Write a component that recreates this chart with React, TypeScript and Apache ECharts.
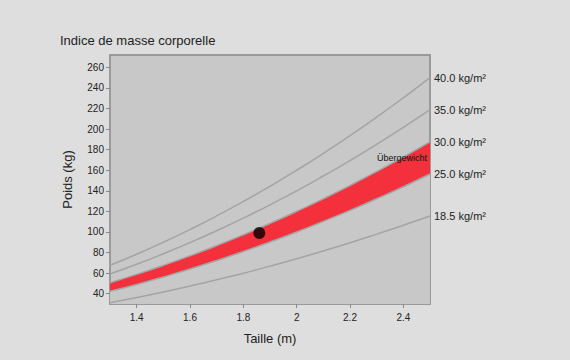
import React, { useEffect, useRef } from "react";
import * as echarts from "echarts";

const heights = [1.3, 1.4, 1.5, 1.6, 1.7, 1.8, 1.9, 2.0, 2.1, 2.2, 2.3, 2.4, 2.5];
const bmi185 = [31.3, 36.3, 41.6, 47.4, 53.5, 59.9, 66.8, 74.0, 81.6, 89.5, 97.9, 106.6, 115.6];
const bmi25 = [42.3, 49.0, 56.3, 64.0, 72.3, 81.0, 90.3, 100.0, 110.3, 121.0, 132.3, 144.0, 156.3];
const bmi30 = [50.7, 58.8, 67.5, 76.8, 86.7, 97.2, 108.3, 120.0, 132.3, 145.2, 158.7, 172.8, 187.5];
const bmi35 = [59.2, 68.6, 78.8, 89.6, 101.2, 113.4, 126.4, 140.0, 154.4, 169.4, 185.2, 201.6, 218.8];
const bmi40 = [67.6, 78.4, 90.0, 102.4, 115.6, 129.6, 144.4, 160.0, 176.4, 193.6, 211.6, 230.4, 250.0];
const lineLabels = ["18.5 kg/m²", "25.0 kg/m²", "30.0 kg/m²", "35.0 kg/m²", "40.0 kg/m²"];
const person = [1.86, 99];
const xTicks = [1.4, 1.6, 1.8, 2.0, 2.2, 2.4];
const yTicks = [40, 60, 80, 100, 120, 140, 160, 180, 200, 220, 240, 260];
const bandLabel = "Übergewicht";

const FONT = "'Liberation Sans', Arial, sans-serif";
const LINE = "#a4a4a4";
const PLOT_BG = "#c8c8c8";

export default function App() {
  const ref = useRef<HTMLDivElement>(null);
  useEffect(() => {
    document.body.style.margin = "0";
    const chart = echarts.init(ref.current!, null, { renderer: "svg" });
    const pair = (arr: number[]) => heights.map((h, i) => [h, arr[i]]);
    const endLabel = (text: string) => ({
      show: true,
      formatter: text,
      distance: 4,
      color: "#222",
      fontSize: 11,
      fontFamily: FONT,
    });
    const lineSeries = (arr: number[], text: string, extra: any = {}) => ({
      type: "line",
      data: pair(arr),
      smooth: true,
      symbol: "none",
      lineStyle: { color: LINE, width: 1.5 },
      endLabel: endLabel(text),
      silent: true,
      ...extra,
    });
    chart.setOption({
      animation: false,
      backgroundColor: "#dedede",
      title: {
        text: "Indice de masse corporelle",
        left: 60,
        top: 34,
        padding: 0,
        textStyle: { fontSize: 13, fontWeight: "normal", color: "#222", fontFamily: FONT },
      },
      grid: {
        left: 110,
        right: 140,
        top: 55,
        bottom: 56,
        show: true,
        backgroundColor: PLOT_BG,
        borderColor: "#9a9a9a",
        borderWidth: 2,
      },
      xAxis: {
        type: "value",
        min: 1.3,
        max: 2.5,
        name: "Taille (m)",
        nameLocation: "middle",
        nameGap: 28,
        nameTextStyle: { fontSize: 13, color: "#222", fontFamily: FONT },
        axisLine: { show: false },
        splitLine: { show: false },
        axisTick: { show: true, length: 4, lineStyle: { color: "#888" }, customValues: xTicks },
        axisLabel: {
          color: "#222",
          fontSize: 10,
          fontFamily: FONT,
          margin: 8,
          customValues: xTicks,
        },
      },
      yAxis: {
        type: "value",
        min: 30,
        max: 272,
        name: "Poids (kg)",
        nameLocation: "middle",
        nameGap: 36,
        nameTextStyle: { fontSize: 13, color: "#222", fontFamily: FONT },
        axisLine: { show: false },
        splitLine: { show: false },
        axisTick: { show: true, length: 4, lineStyle: { color: "#888" }, customValues: yTicks },
        axisLabel: {
          color: "#222",
          fontSize: 10,
          fontFamily: FONT,
          margin: 6,
          customValues: yTicks,
        },
      },
      series: [
        lineSeries(bmi30, lineLabels[2], {
          areaStyle: { color: "#f3303c", opacity: 1, origin: "start" },
          markPoint: {
            symbol: "circle",
            symbolSize: 0,
            silent: true,
            data: [{ coord: [2.5, 172] }],
            label: {
              show: true,
              formatter: bandLabel,
              position: "left",
              distance: 3,
              color: "#111",
              fontSize: 9,
              fontFamily: FONT,
            },
          },
        }),
        lineSeries(bmi25, lineLabels[1], {
          areaStyle: { color: PLOT_BG, opacity: 1, origin: "start" },
        }),
        lineSeries(bmi185, lineLabels[0]),
        lineSeries(bmi35, lineLabels[3]),
        lineSeries(bmi40, lineLabels[4]),
        {
          type: "scatter",
          data: [person],
          symbolSize: 12,
          itemStyle: { color: "#000" },
          z: 10,
        },
      ],
    });
    return () => chart.dispose();
  }, []);
  return (
    <div
      ref={ref}
      style={{ position: "fixed", left: 0, top: 0, width: 570, height: 360 }}
    />
  );
}
